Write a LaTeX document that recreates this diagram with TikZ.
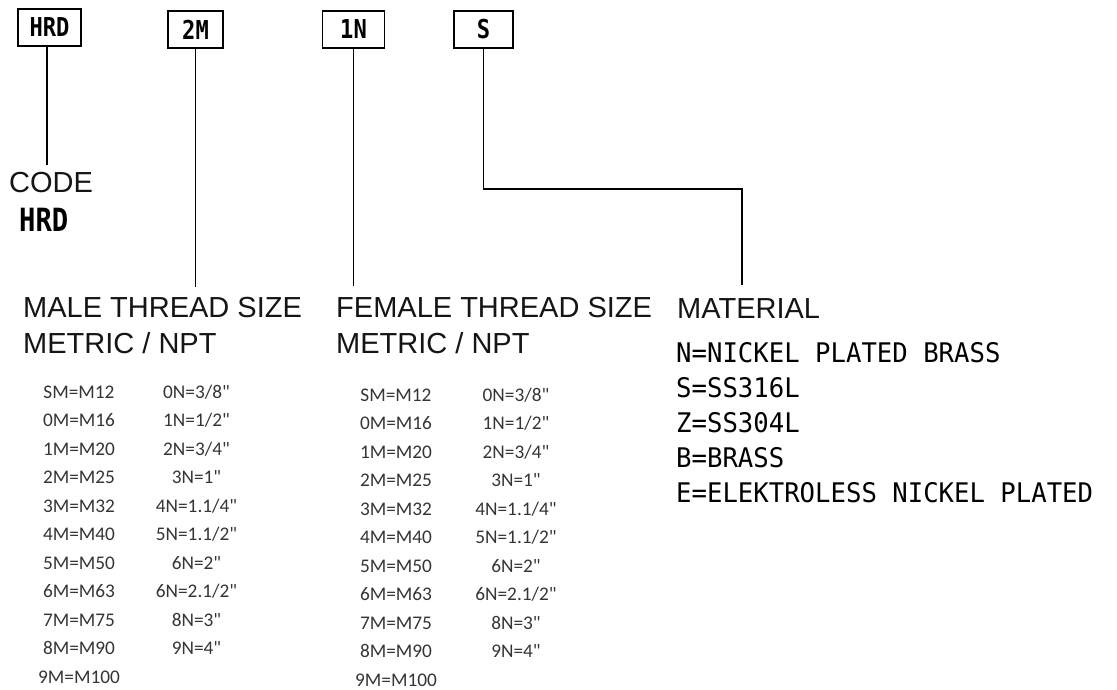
\documentclass[tikz,border=0pt]{standalone}
\usepackage{fontspec}
\setmainfont{Liberation Sans}
\newfontfamily\hdrfont{Liberation Sans}
\newfontfamily\tblfont{Carlito}
\newfontfamily\cadfont[FakeStretch=0.95]{DejaVu Sans Mono}
\newfontfamily\cadnarrow[FakeStretch=0.85]{DejaVu Sans Mono}
\definecolor{hdrcol}{HTML}{151515}
\definecolor{tblcol}{HTML}{353535}
\begin{document}
\begin{tikzpicture}[x=1pt,y=-1pt,
  hdr/.style={inner sep=0pt, anchor=base west, text=hdrcol, font=\hdrfont\fontsize{29}{29}\selectfont},
  tbl/.style={inner sep=0pt, anchor=base, text=tblcol, font=\tblfont\fontsize{19.3}{19}\selectfont},
  cad/.style={inner sep=0pt, anchor=base west, font=\cadfont\fontsize{27}{27}\selectfont},
  codebox/.style={draw, line width=1.5pt, inner sep=0pt, minimum height=37pt, font=\cadnarrow\bfseries\fontsize{26}{26}\selectfont},
  lead/.style={line width=1.5pt}]
\useasboundingbox (0,0) rectangle (1117,690);
\fill[white] (0,0) rectangle (1117,690);

% code boxes
\node[codebox, minimum width=63pt] (bhrd) at (49.5,27.5) {HRD};
\node[codebox, minimum width=55pt] (b2m) at (195.5,29.5) {2M};
\node[codebox, minimum width=62pt] (b1n) at (353.5,29.5) {1N};
\node[codebox, minimum width=59pt] (bs) at (483.5,29.5) {S};

% headers
\node[hdr] (code) at (9,193) {CODE};
\node[inner sep=0pt, anchor=base west, font=\cadnarrow\bfseries\fontsize{32}{32}\selectfont] (codehrd) at (19,231) {HRD};
\node[hdr] (male) at (23,317) {MALE THREAD SIZE};
\node[hdr] (malesub) at (23,353) {METRIC / NPT};
\node[hdr] (female) at (336,317) {FEMALE THREAD SIZE};
\node[hdr] (femalesub) at (336,353) {METRIC / NPT};
\node[hdr] (material) at (677,318) {MATERIAL};

% connectors
\coordinate (e1) at (47,165);
\coordinate (e2) at (195.5,287);
\coordinate (e3) at (353.5,286);
\coordinate (k1) at (483.5,189);
\coordinate (k2) at (742,189);
\coordinate (e4) at (742,285);
\draw[lead] (e1 |- bhrd.south) -- (e1);
\draw[lead] (b2m.south) -- (e2);
\draw[lead] (b1n.south) -- (e3);
\draw[lead] (bs.south) -- (k1) -- (k2) -- (e4);

% male table
\foreach \t [count=\i from 0] in {{SM=M12},{0M=M16},{1M=M20},{2M=M25},{3M=M32},{4M=M40},{5M=M50},{6M=M63},{7M=M75},{8M=M90},{9M=M100}}
  \node[tbl] (ml\i) at (79,398+28.5*\i) {\t};
\foreach \t [count=\i from 0] in {{0N=3/8"},{1N=1/2"},{2N=3/4"},{3N=1"},{4N=1.1/4"},{5N=1.1/2"},{6N=2"},{6N=2.1/2"},{8N=3"},{9N=4"}}
  \node[tbl] (mr\i) at (196.5,398+28.5*\i) {\t};

% female table
\foreach \t [count=\i from 0] in {{SM=M12},{0M=M16},{1M=M20},{2M=M25},{3M=M32},{4M=M40},{5M=M50},{6M=M63},{7M=M75},{8M=M90},{9M=M100}}
  \node[tbl] (fl\i) at (396,401+28.5*\i) {\t};
\foreach \t [count=\i from 0] in {{0N=3/8"},{1N=1/2"},{2N=3/4"},{3N=1"},{4N=1.1/4"},{5N=1.1/2"},{6N=2"},{6N=2.1/2"},{8N=3"},{9N=4"}}
  \node[tbl] (fr\i) at (516,401+28.5*\i) {\t};

% material list
\node[cad] (mat1) at (676,362) {N=NICKEL PLATED BRASS};
\node[cad] (mat2) at (676,397) {S=SS316L};
\node[cad] (mat3) at (676,432) {Z=SS304L};
\node[cad] (mat4) at (676,467) {B=BRASS};
\node[cad] (mat5) at (676,502) {E=ELEKTROLESS NICKEL PLATED};
\end{tikzpicture}
\end{document}
